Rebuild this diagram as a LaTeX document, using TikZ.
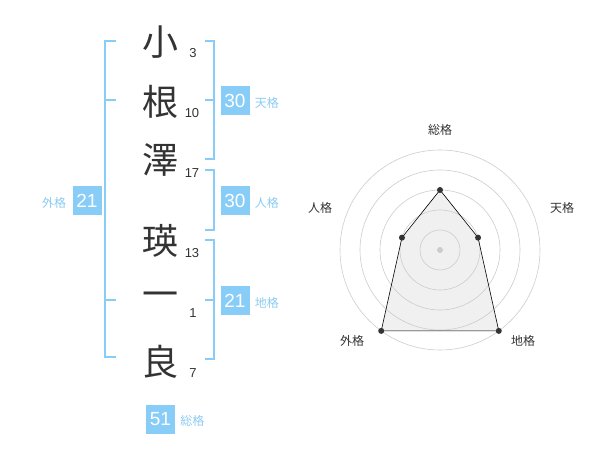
\documentclass[tikz,border=0pt]{standalone}
\usepackage{fontspec}
\setmainfont{Liberation Sans}
\newfontfamily\jp{Noto Sans CJK JP}
\usepackage{tikz}
\usetikzlibrary{positioning}
\definecolor{kakublue}{HTML}{88CCF8}
\definecolor{kakutext}{HTML}{8CCBF2}
\definecolor{sumi}{HTML}{333333}
\definecolor{ringgray}{HTML}{CCCCCC}
\definecolor{radarfill}{HTML}{F0F0F0}
\def\wid{600}
\def\hau{470}

\begin{document}
\begin{tikzpicture}[x=1pt, y=-1pt,
	moji/.style={text=sumi, font=\jp\fontsize{36}{36}\selectfont, inner sep=0pt},
	kaku/.style={text=sumi, font=\fontsize{13}{13}\selectfont, inner sep=0pt},
	kakubox/.style={fill=kakublue, text=white, font=\fontsize{19}{19}\selectfont, inner sep=0pt, minimum width=29pt, minimum height=29pt},
	kakulabel/.style={text=kakutext, font=\jp\fontsize{12}{12}\selectfont, inner sep=0pt, yshift=-2pt},
	bracket/.style={draw=kakublue, line width=2pt},
	ring/.style={draw=ringgray, line width=0.6pt},
	radarlabel/.style={text=sumi, font=\jp\fontsize{12}{12}\selectfont, inner sep=0pt}]
	\useasboundingbox (0,0) rectangle (\wid,\hau);
	%\draw[step=10pt, black!20] (0,0) grid (\wid,\hau);
	\node[moji] (sho) at (160,42){小};
	\node[moji] (ne) at (160,102){根};
	\node[moji] (sawa) at (160,160){澤};
	\node[moji] (ei) at (160,241){瑛};
	\node[moji] (ichi) at (160,300){一};
	\node[moji] (ryo) at (160,362){良};
	\node[kaku] (k1) at (193,53){3};
	\node[kaku] (k2) at (192,113){10};
	\node[kaku] (k3) at (192,173){17};
	\node[kaku] (k4) at (192,253){13};
	\node[kaku] (k5) at (193,313){1};
	\node[kaku] (k6) at (193,373){7};
	% brackets
	\draw[bracket] (116,41) -- (105,41) -- (105,357) -- (116,357);
	\draw[bracket] (105,100) -- (116,100);
	\draw[bracket] (105,300) -- (116,300);
	\draw[bracket] (205,41) -- (214,41) -- (214,159) -- (205,159);
	\draw[bracket] (205,100) -- (214,100);
	\draw[bracket] (205,170) -- (214,170) -- (214,230) -- (205,230);
	\draw[bracket] (205,240) -- (214,240) -- (214,359) -- (205,359);
	\draw[bracket] (205,300) -- (214,300);
	\node[kakubox] (ten) at (235,100.5){30};
	\node[kakulabel, right=5pt of ten] (tenl){天格};
	\node[kakubox] (jin) at (235,200.5){30};
	\node[kakulabel, right=5pt of jin] (jinl){人格};
	\node[kakubox] (chi) at (235,300.5){21};
	\node[kakulabel, right=5pt of chi] (chil){地格};
	\node[kakubox] (gai) at (87,200.5){21};
	\node[kakulabel, left=6pt of gai] (gail){外格};
	\node[kakubox] (sou) at (160.5,419){51};
	\node[kakulabel, right=5pt of sou] (soul){総格};
	% radar
	\coordinate (c) at (440,250);
	\coordinate (psou) at ([shift={(90:60pt)}]c);
	\coordinate (pten) at ([shift={(18:40pt)}]c);
	\coordinate (pchi) at ([shift={(-54:100pt)}]c);
	\coordinate (pgai) at ([shift={(234:100pt)}]c);
	\coordinate (pjin) at ([shift={(162:40pt)}]c);
	\fill[radarfill] (psou) -- (pten) -- (pchi) -- (pgai) -- (pjin) -- cycle;
	\foreach \r in {20,40,...,100}
		\draw[ring] (c) circle (\r pt);
	\fill[ringgray] (c) circle (3pt);
	\draw[black, line width=0.6pt] (psou) -- (pten) -- (pchi) -- (pgai) -- (pjin) -- cycle;
	\foreach \p in {psou,pten,pchi,pgai,pjin}
		\fill[sumi] (\p) circle (3pt);
	\node[radarlabel] (rsou) at (440,130){総格};
	\node[radarlabel] (rten) at (562,208){天格};
	\node[radarlabel] (rjin) at (320,208){人格};
	\node[radarlabel] (rgai) at (352,341){外格};
	\node[radarlabel] (rchi) at (523,341){地格};
\end{tikzpicture}
\end{document}
